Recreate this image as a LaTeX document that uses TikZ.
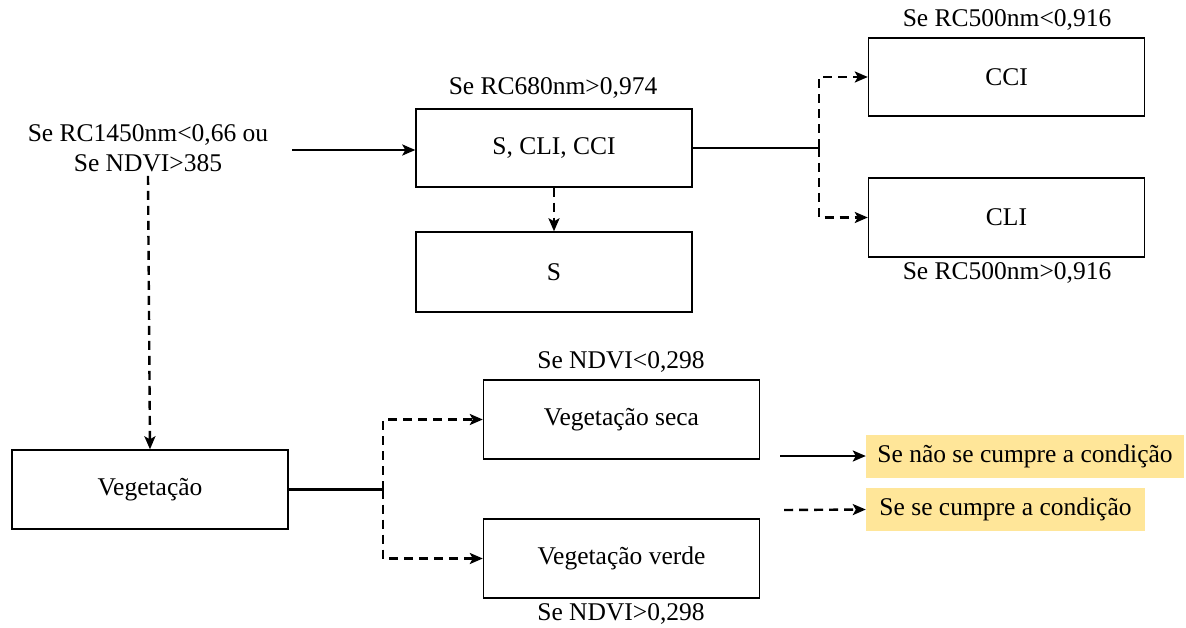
\documentclass[tikz,border=0pt]{standalone}
\usepackage{fontspec}
\setmainfont{Liberation Serif}
\usetikzlibrary{arrows.meta}
\definecolor{legendfill}{HTML}{FFE699}
\begin{document}
\begin{tikzpicture}[x=1pt,y=-1pt,
  box/.style={draw,line width=1.4pt,minimum width=276pt,minimum height=78pt,inner sep=0pt,font=\fontsize{25.5}{30}\selectfont},
  lbl/.style={inner sep=0pt,font=\fontsize{25.5}{30}\selectfont},
  leg/.style={fill=legendfill,inner sep=0pt,minimum height=43pt,font=\fontsize{25.5}{30}\selectfont},
  sol/.style={line width=2.4pt,-{Stealth[length=13pt,width=11pt,inset=3pt]}},
  das/.style={line width=2.4pt,dash pattern=on 9pt off 6pt,-{Stealth[length=13pt,width=11pt,inset=3pt]}},
  solline/.style={line width=2.4pt},
]
\useasboundingbox (0,0) rectangle (1186,628);
% boxes
\node[box] (scc) at (554,148) {S, CLI, CCI};
\node[box,minimum height=80pt] (s) at (554,272) {S};
\node[box] (cci) at (1006.5,77) {CCI};
\node[box,minimum height=79pt] (cli) at (1006.5,217.5) {CLI};
\node[box,minimum height=79pt] (veg) at (150,489.5) {Vegetação};
\node[box,minimum height=79pt] (seca) at (621.5,419.5) {Vegetação seca};
\node[box,minimum height=79pt] (verde) at (621.5,558.5) {Vegetação verde};
% labels
\node[lbl,align=center] (start) at (148,148) {Se RC1450nm<0,66 ou\\Se NDVI>385};
\node[lbl] (l680) at (553,88) {Se RC680nm>0,974};
\node[lbl] (l500a) at (1007,20) {Se RC500nm<0,916};
\node[lbl] (l500b) at (1007,273) {Se RC500nm>0,916};
\node[lbl] (lnd1) at (621,362) {Se NDVI<0,298};
\node[lbl] (lnd2) at (621,614) {Se NDVI>0,298};
% legend
\node[leg,minimum width=318pt] (leg1) at (1025,456) {Se não se cumpre a condição};
\node[leg,minimum width=279pt] (leg2) at (1005.5,509.5) {Se se cumpre a condição};
\coordinate (ls1) at (780,456);
\coordinate (ls2) at (784,510);
% junctions
\coordinate (j1) at (819,148);
\coordinate (j2) at (383,489.5);
% connectors
\draw[sol] (start.east) ++(24pt,-2pt) coordinate (st) -- (st -| scc.west);
\draw[das] (start.south) ++(0,-4pt) -- (veg.north);
\draw[das] (scc.south) -- (s.north);
\draw[solline] (scc.east) -- (j1);
\draw[das] (j1) |- (cci.west);
\draw[das] (j1) |- (cli.west);
\draw[solline] (veg.east) -- (j2);
\draw[das] (j2) |- (seca.west);
\draw[das] (j2) |- (verde.west);
\draw[sol] (ls1) -- (leg1.west);
\draw[das] (ls2) -- (leg2.west);
\end{tikzpicture}
\end{document}
